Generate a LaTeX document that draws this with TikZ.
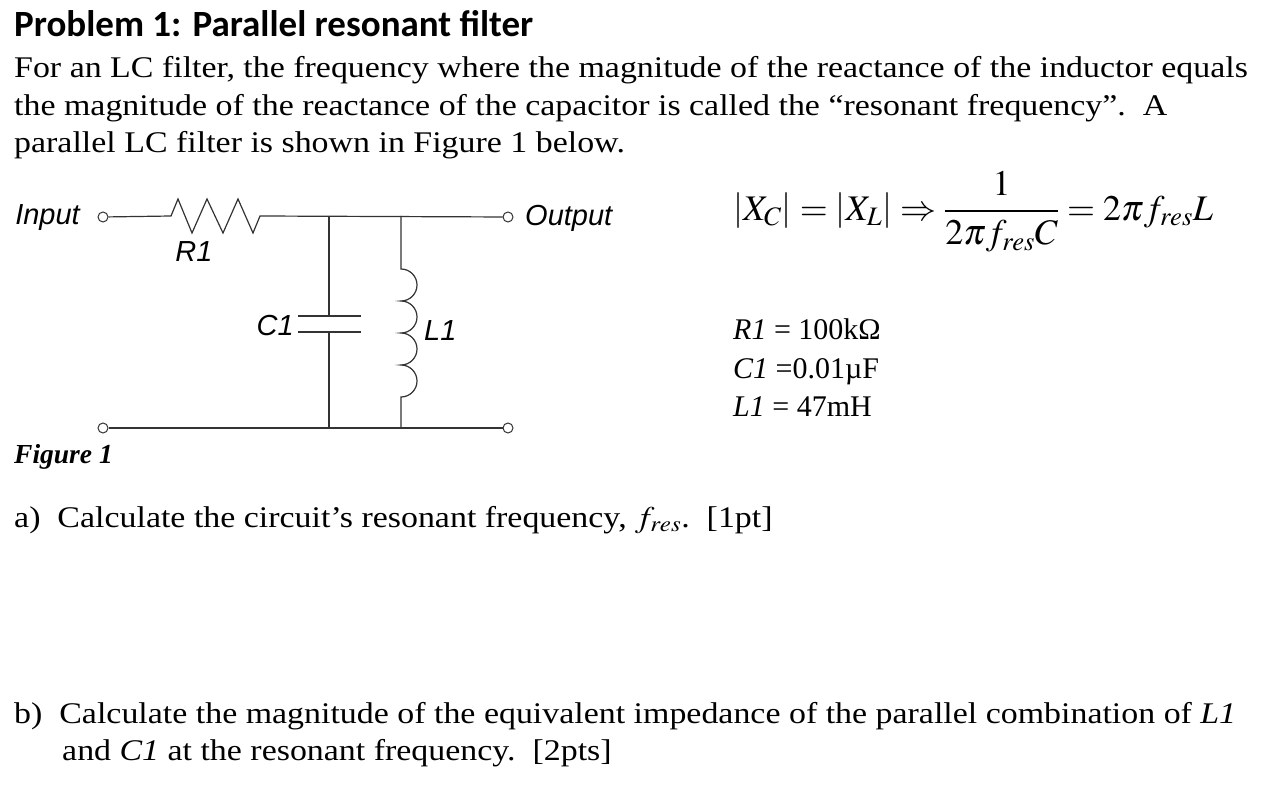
\documentclass[tikz,border=0pt]{standalone}
\usepackage{mathptmx}
\usepackage{fontspec}
\setmainfont{Liberation Serif}
\newfontfamily\titlefont{Carlito}
\newfontfamily\cktfont{Liberation Sans}
\usetikzlibrary{calc}
\tikzset{
  txt/.style={anchor=base west,inner sep=0pt,font=\fontsize{30}{36}\selectfont},
  ckt/.style={inner sep=0pt,font=\cktfont\itshape\fontsize{29}{34}\selectfont},
  wire/.style={line width=1.2pt,black!80},
  term/.style={circle,draw=black!80,line width=1pt,minimum size=10pt,inner sep=0pt,fill=white},
}
\newcommand{\bx}[1]{\scalebox{1.13}[1]{#1}}
\begin{document}
\begin{tikzpicture}[x=1pt,y=-1pt]
\useasboundingbox[fill=white] (0,0) rectangle (1264,802);
\node[txt,font=\titlefont\bfseries\fontsize{37}{42}\selectfont] (title) at (14,37) {Problem 1: Parallel resonant filter};
\node[txt] (l1) at (14,78) {\bx{For an LC filter, the frequency where the magnitude of the reactance of the inductor equals}};
\node[txt] (l2) at (14,116) {\bx{the magnitude of the reactance of the capacitor is called the ``resonant frequency''.\ \ A}};
\node[txt] (l3) at (14,153) {\bx{parallel LC filter is shown in Figure 1 below.}};
% circuit
\coordinate (rs) at (171,216);
\coordinate (re) at (260,216);
\coordinate (ct) at (329,216);
\coordinate (lt) at (401,216);
\coordinate (cb) at (329,428);
\coordinate (lb) at (401,428);
\node[term] (in) at (103,217) {};
\node[term] (out) at (508,217) {};
\node[term] (gin) at (103,428) {};
\node[term] (gout) at (508,428) {};
\draw[wire] (in) -- (rs) -- (178,199) -- (192,233) -- (207,199) -- (223,233) -- (238,199) -- (253,233) -- (re) -- (out);
\draw[wire] (gin) -- (gout);
\draw[wire] (ct) -- (329,316) (329,332) -- (cb);
\draw[wire] (298,316) -- (361,316) (298,332) -- (361,332);
\draw[wire] (lt) -- (401,269)
  arc[start angle=-90,end angle=90,radius=16] arc[start angle=-90,end angle=90,radius=16]
  arc[start angle=-90,end angle=90,radius=16] arc[start angle=-90,end angle=90,radius=16] -- (lb);
\node[ckt,anchor=east] (inl) at (80,218) {Input};
\node[ckt,anchor=west] (outl) at (525,218) {Output};
\node[ckt] (r1) at (194,252) {R1};
\node[ckt,anchor=east] (c1) at (294,326) {C1};
\node[ckt,anchor=west] (l1l) at (424,331) {L1};
\node[txt,font=\bfseries\itshape\fontsize{27.5}{32}\selectfont] (fig) at (14,463) {Figure 1};
% formula
\node[anchor=west,inner sep=0pt,font=\fontsize{36}{42}\selectfont] (eq) at (733,212)
 {$\displaystyle\left|X_{C}\right| = \left|X_{L}\right| \Rightarrow \frac{1}{2\pi f_{res}C} = 2\pi f_{res}L$};
\node[txt] (p1) at (733,340) {\textit{R1} = 100kΩ};
\node[txt] (p2) at (733,378) {\textit{C1} =0.01µF};
\node[txt] (p3) at (733,416) {\textit{L1} = 47mH};
\node[txt] (qa) at (14,527) {\bx{a)\ \ Calculate the circuit's resonant frequency, $f_{res}$.\ \ [1pt]}};
\node[txt] (qb) at (14,723) {\bx{b)\ \ Calculate the magnitude of the equivalent impedance of the parallel combination of \textit{L1}}};
\node[txt] (qb2) at (62,760) {\bx{and \textit{C1} at the resonant frequency.\ \ [2pts]}};
\end{tikzpicture}
\end{document}
